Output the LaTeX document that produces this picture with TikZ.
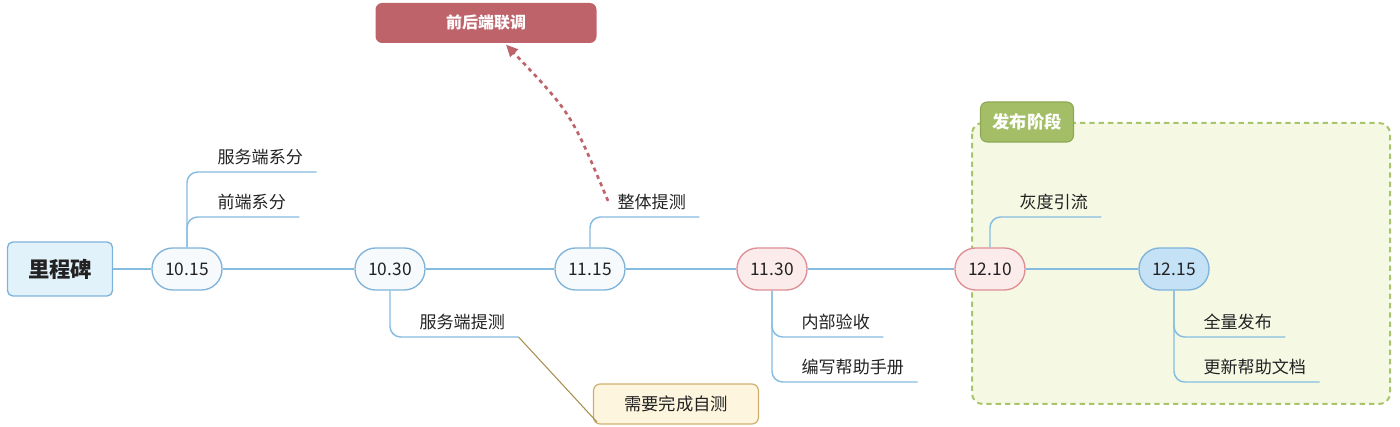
\documentclass[tikz,border=0pt]{standalone}
\usepackage{fontspec}
\setmainfont{Noto Sans CJK SC}
\usetikzlibrary{arrows.meta}
\definecolor{lineblue}{HTML}{86BCE0}
\definecolor{pillblue}{HTML}{7FB3D9}
\definecolor{pillfill}{HTML}{F7FAFC}
\definecolor{rootfill}{HTML}{E2F2FA}
\definecolor{pinkfill}{HTML}{FCEBEB}
\definecolor{pinkline}{HTML}{DE8E95}
\definecolor{lastfill}{HTML}{C4E1F5}
\definecolor{redbox}{HTML}{BF636B}
\definecolor{notefill}{HTML}{FDF5DD}
\definecolor{noteline}{HTML}{CFAF6E}
\definecolor{notelink}{HTML}{A78F4E}
\definecolor{zonefill}{HTML}{F5F9E4}
\definecolor{zoneline}{HTML}{A9C56B}
\definecolor{zonelabel}{HTML}{A3BE66}
\definecolor{zonelabelline}{HTML}{8DA854}
\definecolor{inktext}{HTML}{222222}
\begin{document}
\begin{tikzpicture}[x=0.75pt, y=-0.75pt, font=\fontsize{12.8}{15}\selectfont, text=inktext,
		root/.style = {draw=pillblue, fill=rootfill, line width=1pt, rounded corners=4pt, minimum width=78.75pt, minimum height=40.5pt, font=\fontsize{16}{18}\selectfont\bfseries},
		pill/.style = {draw=pillblue, fill=pillfill, line width=1pt, rounded corners=15.5pt, minimum width=52.5pt, minimum height=31.5pt, font=\fontsize{13}{15}\selectfont},
		pinkpill/.style = {pill, draw=pinkline, fill=pinkfill},
		leaf/.style = {anchor=south west, inner xsep=10pt, inner ysep=5pt},
		branch/.style = {draw=lineblue, line width=1.1pt, rounded corners=8pt},
		tag/.style = {rounded corners=5pt, minimum height=30pt, text=white, font=\fontsize{12}{14}\selectfont\bfseries}]

		\useasboundingbox (0,0) rectangle (1400,427);

		% release zone
		\draw[zoneline, fill=zonefill, dashed, dash pattern=on 4pt off 3pt, line width=1.5pt, rounded corners=8pt] (972,123) rectangle (1390,404);
		\node[tag, draw=zonelabelline, fill=zonelabel, line width=0.8pt, minimum width=69.75pt, font=\fontsize{13}{15}\selectfont\bfseries] (zt) at (1027,122) {发布阶段};

		% timeline
		\node[root] (ms) at (60,269) {里程碑};
		\node[pill] (p1) at (187,269) {10.15};
		\node[pill] (p2) at (390,269) {10.30};
		\node[pill] (p3) at (590,269) {11.15};
		\node[pinkpill] (p4) at (772,269) {11.30};
		\node[pinkpill] (p5) at (990,269) {12.10};
		\node[pill, fill=lastfill, draw=pillblue] (p6) at (1174,269) {12.15};

		\draw[branch] (ms) -- (p1);
		\draw[branch] (p1) -- (p2);
		\draw[branch] (p2) -- (p3);
		\draw[branch] (p3) -- (p4);
		\draw[branch] (p4) -- (p5);
		\draw[branch] (p5) -- (p6);

		% leaves
		\node[leaf] (a1) at (204,172) {服务端系分};
		\node[leaf] (a2) at (204,217) {前端系分};
		\node[leaf] (b1) at (406,337) {服务端提测};
		\node[leaf] (c1) at (604,217) {整体提测};
		\node[leaf] (d1) at (788,337) {内部验收};
		\node[leaf] (d2) at (788,382) {编写帮助手册};
		\node[leaf] (e1) at (1006,217) {灰度引流};
		\node[leaf] (f1) at (1190,337) {全量发布};
		\node[leaf] (f2) at (1190,382) {更新帮助文档};

		\draw[branch] (p1.north) |- (a1.south east);
		\draw[branch] (p1.north) |- (a2.south east);
		\draw[branch] (p2.south) |- (b1.south east);
		\draw[branch] (p3.north) |- (c1.south east);
		\draw[branch] (p4.south) |- (d1.south east);
		\draw[branch] (p4.south) |- (d2.south east);
		\draw[branch] (p5.north) |- (e1.south east);
		\draw[branch] (p6.south) |- (f1.south east);
		\draw[branch] (p6.south) |- (f2.south east);

		% callouts
		\node[tag, fill=redbox, minimum width=165.75pt] (lt) at (486,23) {前后端联调};
		\draw[redbox, line width=2pt, dash pattern=on 3pt off 3pt, -{Triangle[length=9pt, width=8pt]}] ([xshift=3pt, yshift=1pt]c1.west) .. controls (571,113) .. ([xshift=15pt, yshift=-1pt]lt.south);

		\node[tag, draw=noteline, fill=notefill, line width=0.9pt, text=inktext, font=\fontsize{13}{15}\selectfont, minimum width=123.75pt] (nt) at (676,404) {需要完成自测};
		\draw[notelink, line width=0.8pt] (b1.south east) -- ([xshift=3pt, yshift=2pt]nt.south west);
	\end{tikzpicture}
\end{document}
